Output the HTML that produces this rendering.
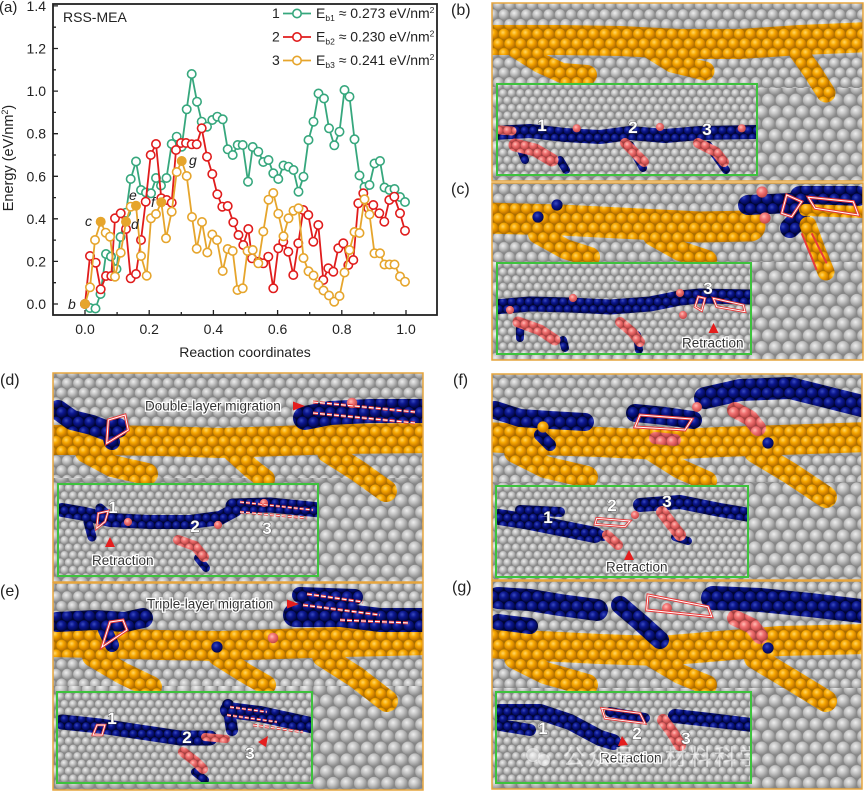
<!DOCTYPE html>
<html><head><meta charset="utf-8">
<style>
html,body{margin:0;padding:0;background:#fff;}
svg{display:block;font-family:"Liberation Sans",Arial,sans-serif;}
</style></head><body>
<svg width="865" height="791" viewBox="0 0 865 791" xmlns="http://www.w3.org/2000/svg">
<defs>
<radialGradient id="rg" cx="0.4" cy="0.36" r="0.62"><stop offset="0" stop-color="#eeeeee"/><stop offset="0.45" stop-color="#c6c6c6"/><stop offset="1" stop-color="#8e8e8e"/></radialGradient>
<radialGradient id="ro" cx="0.4" cy="0.36" r="0.62"><stop offset="0" stop-color="#ffd86a"/><stop offset="0.45" stop-color="#f8a800"/><stop offset="1" stop-color="#c27400"/></radialGradient>
<radialGradient id="rb" cx="0.4" cy="0.36" r="0.62"><stop offset="0" stop-color="#3a4cc0"/><stop offset="0.45" stop-color="#0c1790"/><stop offset="1" stop-color="#020850"/></radialGradient>
<radialGradient id="rp" cx="0.4" cy="0.36" r="0.62"><stop offset="0" stop-color="#ffc0b8"/><stop offset="0.45" stop-color="#f27272"/><stop offset="1" stop-color="#c44a4a"/></radialGradient>

<pattern id="G1" width="11.2" height="19.4" patternUnits="userSpaceOnUse"><rect width="11.2" height="19.4" fill="#858585"/><g fill="url(#rg)"><circle cx="5.6" cy="4.85" r="5.35"/><circle cx="0" cy="14.55" r="5.35"/><circle cx="11.2" cy="14.55" r="5.35"/><circle cx="0" cy="-4.85" r="5.35"/><circle cx="11.2" cy="-4.85" r="5.35"/><circle cx="5.6" cy="24.25" r="5.35"/></g></pattern>
<pattern id="G3" width="13.6" height="23.56" patternUnits="userSpaceOnUse"><rect width="13.6" height="23.56" fill="#858585"/><g fill="url(#rg)"><circle cx="6.8" cy="5.89" r="6.5"/><circle cx="0" cy="17.67" r="6.5"/><circle cx="13.6" cy="17.67" r="6.5"/><circle cx="0" cy="-5.89" r="6.5"/><circle cx="13.6" cy="-5.89" r="6.5"/><circle cx="6.8" cy="29.45" r="6.5"/></g></pattern>
<pattern id="O1" width="11.2" height="19.4" patternUnits="userSpaceOnUse"><rect width="11.2" height="19.4" fill="#a86e00"/><g fill="url(#ro)"><circle cx="5.6" cy="4.85" r="5.35"/><circle cx="0" cy="14.55" r="5.35"/><circle cx="11.2" cy="14.55" r="5.35"/><circle cx="0" cy="-4.85" r="5.35"/><circle cx="11.2" cy="-4.85" r="5.35"/><circle cx="5.6" cy="24.25" r="5.35"/></g></pattern>
<pattern id="B1" width="11.2" height="19.4" patternUnits="userSpaceOnUse"><rect width="11.2" height="19.4" fill="#000530"/><g fill="url(#rb)"><circle cx="5.6" cy="4.85" r="5.35"/><circle cx="0" cy="14.55" r="5.35"/><circle cx="11.2" cy="14.55" r="5.35"/><circle cx="0" cy="-4.85" r="5.35"/><circle cx="11.2" cy="-4.85" r="5.35"/><circle cx="5.6" cy="24.25" r="5.35"/></g></pattern>
<pattern id="G2" width="8.6" height="14.9" patternUnits="userSpaceOnUse"><rect width="8.6" height="14.9" fill="#858585"/><g fill="url(#rg)"><circle cx="4.3" cy="3.725" r="4.1"/><circle cx="0" cy="11.175" r="4.1"/><circle cx="8.6" cy="11.175" r="4.1"/><circle cx="0" cy="-3.725" r="4.1"/><circle cx="8.6" cy="-3.725" r="4.1"/><circle cx="4.3" cy="18.625" r="4.1"/></g></pattern>
<pattern id="B2" width="8.6" height="14.9" patternUnits="userSpaceOnUse"><rect width="8.6" height="14.9" fill="#000530"/><g fill="url(#rb)"><circle cx="4.3" cy="3.725" r="4.1"/><circle cx="0" cy="11.175" r="4.1"/><circle cx="8.6" cy="11.175" r="4.1"/><circle cx="0" cy="-3.725" r="4.1"/><circle cx="8.6" cy="-3.725" r="4.1"/><circle cx="4.3" cy="18.625" r="4.1"/></g></pattern>
<pattern id="P2" width="8.6" height="14.9" patternUnits="userSpaceOnUse"><rect width="8.6" height="14.9" fill="#a04040"/><g fill="url(#rp)"><circle cx="4.3" cy="3.725" r="4.1"/><circle cx="0" cy="11.175" r="4.1"/><circle cx="8.6" cy="11.175" r="4.1"/><circle cx="0" cy="-3.725" r="4.1"/><circle cx="8.6" cy="-3.725" r="4.1"/><circle cx="4.3" cy="18.625" r="4.1"/></g></pattern>
<pattern id="P1" width="11.2" height="19.4" patternUnits="userSpaceOnUse"><rect width="11.2" height="19.4" fill="#a04040"/><g fill="url(#rp)"><circle cx="5.6" cy="4.85" r="5.35"/><circle cx="0" cy="14.55" r="5.35"/><circle cx="11.2" cy="14.55" r="5.35"/><circle cx="0" cy="-4.85" r="5.35"/><circle cx="11.2" cy="-4.85" r="5.35"/><circle cx="5.6" cy="24.25" r="5.35"/></g></pattern>

<marker id="mG" markerWidth="12" markerHeight="12" refX="6" refY="6" markerUnits="userSpaceOnUse" overflow="visible"><circle cx="6" cy="6" r="4.2" fill="#fff" stroke="#36a77d" stroke-width="1.6"/></marker>
<marker id="mR" markerWidth="12" markerHeight="12" refX="6" refY="6" markerUnits="userSpaceOnUse" overflow="visible"><circle cx="6" cy="6" r="4.2" fill="#fff" stroke="#e01c1c" stroke-width="1.6"/></marker>
<marker id="mO" markerWidth="12" markerHeight="12" refX="6" refY="6" markerUnits="userSpaceOnUse" overflow="visible"><circle cx="6" cy="6" r="4.2" fill="#fff" stroke="#e6a52c" stroke-width="1.6"/></marker>

<clipPath id="cb"><rect x="492" y="3" width="371" height="178"/></clipPath>
<clipPath id="cc"><rect x="492" y="183" width="371" height="177"/></clipPath>
<clipPath id="cd"><rect x="53" y="373" width="370" height="209"/></clipPath>
<clipPath id="ce"><rect x="53" y="583" width="370" height="207"/></clipPath>
<clipPath id="cf"><rect x="492" y="374" width="370" height="206"/></clipPath>
<clipPath id="cg"><rect x="492" y="581" width="370" height="208"/></clipPath>
<clipPath id="ib"><rect x="497" y="84" width="260" height="91"/></clipPath>
<clipPath id="ic"><rect x="497" y="263" width="254" height="91"/></clipPath>
<clipPath id="id"><rect x="58" y="484" width="260" height="92"/></clipPath>
<clipPath id="ie"><rect x="57" y="692" width="255" height="91"/></clipPath>
<clipPath id="if"><rect x="496" y="486" width="252" height="91"/></clipPath>
<clipPath id="ig"><rect x="496" y="692" width="255" height="91"/></clipPath>
</defs>

<rect width="865" height="791" fill="#fff"/>

<!-- ================= CHART (a) ================= -->
<text x="-1" y="12" font-size="15" fill="#222">(a)</text>
<rect x="53" y="4" width="384" height="311" fill="none" stroke="#222" stroke-width="1.8"/>
<path d="M53,304h5M53,282.7h3M53,261.4h5M53,240.1h3M53,218.8h5M53,197.6h3M53,176.3h5M53,155h3M53,133.7h5M53,112.4h3M53,91.1h5M53,69.8h3M53,48.5h5M53,27.2h3M53,5.9h5" stroke="#222" stroke-width="1.3"/>
<path d="M85,315v-5M117.1,315v-3M149.2,315v-5M181.3,315v-3M213.4,315v-5M245.5,315v-3M277.6,315v-5M309.7,315v-3M341.8,315v-5M373.9,315v-3M406,315v-5" stroke="#222" stroke-width="1.3"/>
<g font-size="14" fill="#222" text-anchor="end">
<text x="46" y="309">0.0</text><text x="46" y="266.4">0.2</text><text x="46" y="223.8">0.4</text><text x="46" y="181.3">0.6</text><text x="46" y="138.7">0.8</text><text x="46" y="96.1">1.0</text><text x="46" y="53.5">1.2</text><text x="46" y="10.9">1.4</text>
</g>
<g font-size="14" fill="#222" text-anchor="middle">
<text x="85" y="334">0.0</text><text x="149.2" y="334">0.2</text><text x="213.4" y="334">0.4</text><text x="277.6" y="334">0.6</text><text x="341.8" y="334">0.8</text><text x="406" y="334">1.0</text>
<text x="245" y="357">Reaction coordinates</text>
</g>
<text transform="translate(13,158) rotate(-90)" text-anchor="middle" font-size="14.5" fill="#222">Energy (eV/nm<tspan font-size="9" dy="-5">2</tspan><tspan dy="5">)</tspan></text>
<text x="63" y="22" font-size="14" fill="#222">RSS-MEA</text>

<!-- legend -->
<g font-size="14" fill="#222">
<text x="272" y="18">1</text>
<text x="272" y="41.5">2</text>
<text x="272" y="65">3</text>
<text x="316" y="18">E<tspan font-size="8.5" dy="3">b1</tspan><tspan dy="-3"> ≈ 0.273 eV/nm</tspan><tspan font-size="8.5" dy="-5">2</tspan></text>
<text x="316" y="41.5">E<tspan font-size="8.5" dy="3">b2</tspan><tspan dy="-3"> ≈ 0.230 eV/nm</tspan><tspan font-size="8.5" dy="-5">2</tspan></text>
<text x="316" y="65">E<tspan font-size="8.5" dy="3">b3</tspan><tspan dy="-3"> ≈ 0.241 eV/nm</tspan><tspan font-size="8.5" dy="-5">2</tspan></text>
</g>
<path d="M283,13.5H311" stroke="#36a77d" stroke-width="1.8"/><circle cx="297" cy="13.5" r="4.2" fill="#fff" stroke="#36a77d" stroke-width="1.6"/>
<path d="M283,37H311" stroke="#e01c1c" stroke-width="1.8"/><circle cx="297" cy="37" r="4.2" fill="#fff" stroke="#e01c1c" stroke-width="1.6"/>
<path d="M283,60.5H311" stroke="#e6a52c" stroke-width="1.8"/><circle cx="297" cy="60.5" r="4.2" fill="#fff" stroke="#e6a52c" stroke-width="1.6"/>

<!-- series -->
<polyline fill="none" stroke="#36a77d" stroke-width="1.8" stroke-linejoin="round" marker-start="url(#mG)" marker-mid="url(#mG)" marker-end="url(#mG)"
points="85,304 90,308 95.5,308.5 100.5,294 106,254 111,256.5 116.5,269 120.5,237 126,212.7 130.7,179 136,161.5 141,190 146,192.5 151,193.3 156,178 161,185.5 166.5,178 171.7,144 176.7,136.7 181.7,146.7 186.7,109.3 191.7,74 197,101.7 201.7,121.7 207,126.7 212.3,120 217.3,116.7 222.7,119.3 227.7,149.3 232.7,155 237.7,145 242.7,145 248,181.7 252.7,147 258.3,151.7 263.3,162 268.5,160 273.3,173.3 278.3,179 283.5,165.5 288.5,166.7 293.5,170 298.5,191.7 303.5,176.7 308.5,140 313.5,121.7 318.5,93.5 324,98.5 329,128.3 334.3,145.3 339.5,131.7 344.5,90 349.5,96.7 354.5,139.3 359.5,175.5 364.5,187 369.5,185 374.5,163.5 380,161 384.5,187.5 389.5,190 394.5,189 400,197 405,202"/>
<polyline fill="none" stroke="#e01c1c" stroke-width="1.8" stroke-linejoin="round" marker-start="url(#mR)" marker-mid="url(#mR)" marker-end="url(#mR)"
points="85,304 90,256 95.7,262.7 100.7,289.3 106,276 111.3,276 115,218.3 120.7,213.3 126,229 130.7,278.3 136,274 141,240 145.7,201.7 150.7,155 156,144 161.3,198.3 166.7,200 171.7,202.7 176,150 181,143 186,143 191.7,144.3 196.7,144.3 201.7,128.3 207,156.7 212.3,174 217.3,194.3 222.3,206.7 227.7,206 233.3,222.3 238.5,235 243.3,245 248.3,229 252,258.3 258.3,261.7 263.3,263.3 268.3,256.7 273.3,288.3 278.3,248.3 283.3,241.7 288.3,251.7 293.3,275 298.3,243.3 303.3,210 308.3,215 313.3,241.7 318.3,225 323.3,280 328.3,268.3 333.3,271.7 338.3,248.3 343.3,243.3 348.3,265 353.3,260 358.3,203.3 363.3,193.3 368.3,208.3 373.3,205 379.3,213.3 384.3,221.7 389.3,200 394.3,196.7 400,213.3 405,230.7"/>
<polyline fill="none" stroke="#e6a52c" stroke-width="1.8" stroke-linejoin="round" marker-start="url(#mO)" marker-mid="url(#mO)" marker-end="url(#mO)"
points="85,304 90,287.3 95,240 100.7,221.7 105.7,232.7 110,236.7 115,276.7 120.7,252.7 126,221.7 130.7,206.7 136,205.7 141,256 146.7,275.7 151,218.3 156,214 161.3,202.3 166,238.3 171.7,211.7 176.7,172 181.7,161 186.7,176 192,217 196.7,248.7 202,222 207.3,252.5 212.3,234.5 217,240 222.7,271 227.7,249 232.7,251 237.5,290 242.7,288.3 247.5,251 252.7,250 258.3,263.3 263.3,231.5 268.5,199.7 273.3,193 278.3,213.7 283.5,236.3 288.5,218.3 293.5,210.7 298.5,208.3 303.5,258 308.5,271.3 313.5,275.5 318.5,285 323.5,290.5 329,295.5 334.2,301.7 339.5,296 344.5,272.5 349.5,250 354.5,232 359.5,233 364.5,199.3 369.5,214.5 374.5,253.3 380,253.3 384.5,264.5 389.5,264.5 394.5,264.5 400,276.5 405,281.7"/>
<g fill="#e6a52c">
<circle cx="85" cy="304" r="4.6"/><circle cx="100.7" cy="221.7" r="4.6"/><circle cx="126" cy="221.7" r="4.6"/><circle cx="136" cy="205.7" r="4.6"/><circle cx="161.3" cy="202.3" r="4.6"/><circle cx="181.7" cy="161" r="4.6"/>
</g>
<g font-size="14" font-style="italic" fill="#222">
<text x="68" y="309">b</text><text x="85" y="226">c</text><text x="131" y="229">d</text><text x="129" y="200">e</text><text x="151" y="207">f</text><text x="189" y="165">g</text>
</g>

<!-- panel labels -->
<g font-size="16" fill="#222">
<text x="451" y="15">(b)</text>
<text x="451" y="194">(c)</text>
<text x="0" y="385">(d)</text>
<text x="0" y="596">(e)</text>
<text x="453" y="385">(f)</text>
<text x="452" y="592">(g)</text>
</g>

<!-- ================= PANEL (b) ================= -->
<g clip-path="url(#cb)">
<rect x="492" y="3" width="371" height="178" fill="url(#G1)"/>
<rect x="492" y="88" width="371" height="93" fill="url(#G3)"/>
<g fill="none" stroke="url(#O1)" stroke-linecap="round" stroke-linejoin="round">
<path d="M485,40 L560,40 L620,41 L680,44 L740,44 L800,40 L870,37" stroke-width="30"/>
<path d="M516,48 L540,63 L562,73 L587,75" stroke-width="20"/>
<path d="M648,48 L672,63 L705,71" stroke-width="19"/>
<path d="M794,46 L812,71 L826,93" stroke-width="19"/>
</g>
</g>
<g clip-path="url(#ib)">
<rect x="497" y="84" width="260" height="91" fill="url(#G2)"/>
<g fill="none" stroke-linecap="round" stroke-linejoin="round">
<path d="M494,133 L530,131 L565,135 L600,137 L630,133 L665,136 L700,133 L760,132" stroke="url(#B2)" stroke-width="14"/>
<path d="M521,150 L525,160 M560,160 L566,170 M630,145 L643,168 M708,145 L726,170" stroke="url(#B2)" stroke-width="8"/>
<path d="M500,130 L512,131" stroke="url(#P2)" stroke-width="9"/>
<path d="M515,145 L535,150 L552,160" stroke="url(#P2)" stroke-width="13"/>
<path d="M625,143 L638,156 L644,162" stroke="url(#P2)" stroke-width="10"/>
<path d="M698,143 L716,152 L724,162" stroke="url(#P2)" stroke-width="10"/>
</g>
<g fill="url(#rp)"><circle cx="576.7" cy="128.3" r="4.1"/><circle cx="660" cy="127" r="4.1"/><circle cx="741.7" cy="128.3" r="4.1"/></g>
</g>
<rect x="497" y="84" width="260" height="91" fill="none" stroke="#3dc23d" stroke-width="2"/>
<rect x="492" y="3" width="371" height="178" fill="none" stroke="#e6a53e" stroke-width="1.5"/>
<g font-size="17" font-weight="bold" fill="#fff" stroke="#444" stroke-width="0.8" paint-order="stroke" text-anchor="middle">
<text x="542" y="131">1</text><text x="633" y="133">2</text><text x="707" y="135">3</text>
</g>

<!-- ================= PANEL (c) ================= -->
<g clip-path="url(#cc)">
<rect x="492" y="183" width="371" height="177" fill="url(#G1)"/>
<rect x="492" y="262" width="371" height="98" fill="url(#G3)"/>
<g fill="none" stroke-linecap="round" stroke-linejoin="round">
<path d="M485,218 L560,220 L640,224 L700,227 L750,226" stroke="url(#O1)" stroke-width="31"/>
<path d="M538,234 L565,249 L590,257" stroke="url(#O1)" stroke-width="20"/>
<path d="M653,236 L680,251 L707,260" stroke="url(#O1)" stroke-width="20"/>
<path d="M748,205 L790,203 L800,218 L790,228 M800,196 L858,196" stroke="url(#B1)" stroke-width="20"/>
<path d="M805,210 L862,212" stroke="url(#O1)" stroke-width="12"/>
<path d="M808,225 L817,250 L826,272" stroke="url(#O1)" stroke-width="17"/>
</g>
<circle cx="538" cy="217" r="5.6" fill="url(#rb)"/><circle cx="557" cy="205" r="5.6" fill="url(#rb)"/>
<circle cx="762" cy="192" r="5.6" fill="url(#rp)"/><circle cx="765" cy="218" r="5.6" fill="url(#rp)"/>
<g fill="none">
<polygon points="781.7,213.3 786.7,195 801.7,201.7 791.7,216.7" stroke="#e83a3a" stroke-width="3"/>
<polygon points="781.7,213.3 786.7,195 801.7,201.7 791.7,216.7" stroke="#fff" stroke-width="1"/>
<polygon points="808.3,197.3 853.3,201.7 858.3,215 815,208.3" stroke="#e83a3a" stroke-width="3"/>
<polygon points="808.3,197.3 853.3,201.7 858.3,215 815,208.3" stroke="#fff" stroke-width="1"/>
<path d="M801.7,233.3 L816.7,270 M811.7,233.3 L826.7,263.3" stroke="#e83a3a" stroke-width="2"/>
</g>
</g>
<g clip-path="url(#ic)">
<rect x="497" y="263" width="254" height="91" fill="url(#G2)"/>
<g fill="none" stroke-linecap="round" stroke-linejoin="round">
<path d="M494,307 L530,304 L570,305 L610,307 L650,304 L680,298 L700,296 L750,297" stroke="url(#B2)" stroke-width="15"/>
<path d="M520,325 L520,338 M637,335 L639,350 M563,340 L565,348" stroke="url(#B2)" stroke-width="8"/>
<path d="M518,322 L540,330 L555,340" stroke="url(#P2)" stroke-width="11"/>
<path d="M620,322 L632,332 L640,342" stroke="url(#P2)" stroke-width="10"/>
</g>
<g fill="url(#rp)"><circle cx="510" cy="310" r="4.1"/><circle cx="573" cy="298" r="4.1"/><circle cx="680" cy="293" r="4.1"/><circle cx="683" cy="315" r="4.1"/></g>
<g fill="none">
<polygon points="695,306.7 698.3,296.7 705,298.3 701.7,310.7" stroke="#e83a3a" stroke-width="2.6"/>
<polygon points="695,306.7 698.3,296.7 705,298.3 701.7,310.7" stroke="#fff" stroke-width="0.9"/>
<polygon points="713.3,298.3 743.3,305 745,311.7 716.7,306.7" stroke="#e83a3a" stroke-width="2.6"/>
<polygon points="713.3,298.3 743.3,305 745,311.7 716.7,306.7" stroke="#fff" stroke-width="0.9"/>
</g>
<polygon points="713.5,323 718.5,333 708.5,333" fill="#e41e1e"/>
<text x="682" y="347.5" font-size="13.5" fill="#333" stroke="#fff" stroke-width="2.5" paint-order="stroke">Retraction</text>
</g>
<rect x="497" y="263" width="254" height="91" fill="none" stroke="#3dc23d" stroke-width="2"/>
<rect x="492" y="183" width="371" height="177" fill="none" stroke="#e6a53e" stroke-width="1.5"/>
<text x="708" y="294" font-size="17" font-weight="bold" fill="#fff" stroke="#444" stroke-width="0.8" paint-order="stroke" text-anchor="middle">3</text>

<!-- ================= PANEL (d) ================= -->
<g clip-path="url(#cd)">
<rect x="53" y="373" width="370" height="209" fill="url(#G1)"/>
<rect x="53" y="478" width="370" height="104" fill="url(#G3)"/>
<g fill="none" stroke-linecap="round" stroke-linejoin="round">
<path d="M45,440 L100,440 L160,441 L220,443 L280,441 L340,439 L430,438" stroke="url(#O1)" stroke-width="30"/>
<path d="M86,452 L112,466 L147,474" stroke="url(#O1)" stroke-width="22"/>
<path d="M233,452 L252,469 L265,479" stroke="url(#O1)" stroke-width="20"/>
<path d="M328,452 L358,471 L386,491" stroke="url(#O1)" stroke-width="22"/>
<path d="M58,410 L72,420 L92,425 L105,430 L118,428" stroke="url(#B1)" stroke-width="20"/>
<path d="M108,428 L112,442" stroke="url(#B1)" stroke-width="16"/>
<path d="M305,418 L330,413 L370,411 L430,411" stroke="url(#B1)" stroke-width="24"/>
</g>
<circle cx="352" cy="403" r="5.3" fill="url(#rp)"/>
<g fill="none">
<polygon points="106.7,443.3 108.3,420 125,415 128.3,430" stroke="#e83a3a" stroke-width="3"/>
<polygon points="106.7,443.3 108.3,420 125,415 128.3,430" stroke="#fff" stroke-width="1"/>
<path d="M313,402 L415,412 M313,413 L415,423" stroke="#e83a3a" stroke-width="3" stroke-dasharray="5 2"/>
<path d="M313,402 L415,412 M313,413 L415,423" stroke="#fff" stroke-width="1.1" stroke-dasharray="5 2"/>
</g>
<text x="145" y="410.5" font-size="13.5" fill="#333" stroke="#fff" stroke-width="2.5" paint-order="stroke">Double-layer migration</text>
<polygon points="293,401.5 305,406 293,410.5" fill="#e41e1e"/>
</g>
<g clip-path="url(#id)">
<rect x="58" y="484" width="260" height="92" fill="url(#G2)"/>
<g fill="none" stroke-linecap="round" stroke-linejoin="round" stroke="url(#B2)">
<path d="M62,510 L85,514 L110,520 L150,522 L190,522 L220,518 L235,510" stroke-width="14"/>
<path d="M88,522 L92,537 M100,508 L108,515" stroke-width="9"/>
<path d="M233,506 L270,505 L320,510" stroke-width="15"/>
<path d="M198,558 L206,568" stroke-width="8"/>
</g>
<path d="M178,540 L195,546 L204,557" stroke="url(#P2)" stroke-width="10" fill="none" stroke-linecap="round"/>
<g fill="url(#rp)"><circle cx="218" cy="525" r="4.1"/><circle cx="128" cy="522" r="4.1"/><circle cx="264" cy="503" r="4.1"/></g>
<g fill="none">
<polygon points="96.7,528.3 98.3,513.3 108.3,511 105,521.7" stroke="#e83a3a" stroke-width="2.6"/>
<polygon points="96.7,528.3 98.3,513.3 108.3,511 105,521.7" stroke="#fff" stroke-width="0.9"/>
<path d="M240,502 L313,510 M240,512 L307,518" stroke="#e83a3a" stroke-width="2.6" stroke-dasharray="4 2"/>
<path d="M240,502 L313,510 M240,512 L307,518" stroke="#fff" stroke-width="0.9" stroke-dasharray="4 2"/>
</g>
<polygon points="110,537 115,547 105,547" fill="#e41e1e"/>
<text x="92" y="565" font-size="13.5" fill="#333" stroke="#fff" stroke-width="2.5" paint-order="stroke">Retraction</text>
</g>
<rect x="58" y="484" width="260" height="92" fill="none" stroke="#3dc23d" stroke-width="2"/>
<rect x="53" y="373" width="370" height="209" fill="none" stroke="#e6a53e" stroke-width="1.5"/>
<g font-size="17" font-weight="bold" fill="#fff" stroke="#444" stroke-width="0.8" paint-order="stroke" text-anchor="middle">
<text x="113" y="513">1</text><text x="195" y="532">2</text><text x="267" y="534">3</text>
</g>

<!-- ================= PANEL (e) ================= -->
<g clip-path="url(#ce)">
<rect x="53" y="583" width="370" height="207" fill="url(#G1)"/>
<rect x="53" y="686" width="370" height="104" fill="url(#G3)"/>
<g fill="none" stroke-linecap="round" stroke-linejoin="round">
<path d="M45,642 L100,643 L160,645 L220,646 L280,644 L340,642 L430,640" stroke="url(#O1)" stroke-width="30"/>
<path d="M93,656 L122,673 L151,687" stroke="url(#O1)" stroke-width="22"/>
<path d="M218,656 L245,673 L266,685" stroke="url(#O1)" stroke-width="20"/>
<path d="M323,656 L356,677 L387,701" stroke="url(#O1)" stroke-width="22"/>
<path d="M57,622 L95,620 L125,622 L143,618" stroke="url(#B1)" stroke-width="20"/>
<path d="M105,630 L112,645" stroke="url(#B1)" stroke-width="14"/>
<path d="M300,595 L355,597" stroke="url(#B1)" stroke-width="16"/>
<path d="M295,615 L340,615 L380,620 L430,620" stroke="url(#B1)" stroke-width="24"/>
</g>
<circle cx="217" cy="647" r="5.6" fill="url(#rb)"/>
<circle cx="273" cy="638" r="5.3" fill="url(#rp)"/>
<g fill="none">
<polygon points="102,647 110,622 123,620 127,630" stroke="#e83a3a" stroke-width="3"/>
<polygon points="102,647 110,622 123,620 127,630" stroke="#fff" stroke-width="1"/>
<path d="M307,594 L363,602 M303,605 L380,615 M340,620 L410,623" stroke="#e83a3a" stroke-width="3" stroke-dasharray="5 2"/>
<path d="M307,594 L363,602 M303,605 L380,615 M340,620 L410,623" stroke="#fff" stroke-width="1.1" stroke-dasharray="5 2"/>
</g>
<text x="147" y="608.5" font-size="13.5" fill="#333" stroke="#fff" stroke-width="2.5" paint-order="stroke">Triple-layer migration</text>
<polygon points="287,599.5 299,604 287,608.5" fill="#e41e1e"/>
</g>
<g clip-path="url(#ie)">
<rect x="57" y="692" width="255" height="91" fill="url(#G2)"/>
<g fill="none" stroke-linecap="round" stroke-linejoin="round" stroke="url(#B2)">
<path d="M62,722 L100,726 L140,732 L180,738 L210,738" stroke-width="15"/>
<path d="M228,710 L260,714 L315,726" stroke-width="16"/>
<path d="M228,705 L232,730" stroke-width="12"/>
<path d="M195,772 L205,780" stroke-width="8"/>
</g>
<g fill="none" stroke-linecap="round" stroke="url(#P2)">
<path d="M183,752 L195,761 L203,769" stroke-width="10"/>
<path d="M205,737 L226,739" stroke-width="8"/>
</g>
<g fill="none">
<polygon points="93,735 97,725 105,725 102,735" stroke="#e83a3a" stroke-width="2.6"/>
<polygon points="93,735 97,725 105,725 102,735" stroke="#fff" stroke-width="0.9"/>
<path d="M230,707 L267,712 M227,715 L277,722 M253,725 L303,732" stroke="#e83a3a" stroke-width="2.6" stroke-dasharray="4 2"/>
<path d="M230,707 L267,712 M227,715 L277,722 M253,725 L303,732" stroke="#fff" stroke-width="0.9" stroke-dasharray="4 2"/>
</g>
<polygon points="268,736 266,747 258,742" fill="#e41e1e"/>
</g>
<rect x="57" y="692" width="255" height="91" fill="none" stroke="#3dc23d" stroke-width="2"/>
<rect x="53" y="583" width="370" height="207" fill="none" stroke="#e6a53e" stroke-width="1.5"/>
<g font-size="17" font-weight="bold" fill="#fff" stroke="#444" stroke-width="0.8" paint-order="stroke" text-anchor="middle">
<text x="112" y="724">1</text><text x="187" y="743">2</text><text x="250" y="759">3</text>
</g>

<!-- ================= PANEL (f) ================= -->
<g clip-path="url(#cf)">
<rect x="492" y="374" width="370" height="206" fill="url(#G1)"/>
<rect x="492" y="482" width="370" height="98" fill="url(#G3)"/>
<g fill="none" stroke-linecap="round" stroke-linejoin="round">
<path d="M485,437 L540,440 L600,442 L660,445 L720,442 L780,440 L870,437" stroke="url(#O1)" stroke-width="30"/>
<path d="M515,452 L545,467 L587,477" stroke="url(#O1)" stroke-width="22"/>
<path d="M653,452 L680,469 L707,481" stroke="url(#O1)" stroke-width="20"/>
<path d="M755,452 L790,473 L826,497" stroke="url(#O1)" stroke-width="22"/>
<path d="M495,410 L520,418 L550,420 L585,422" stroke="url(#B1)" stroke-width="18"/>
<path d="M540,435 L550,445" stroke="url(#B1)" stroke-width="12"/>
<path d="M635,413 L665,416 L693,420" stroke="url(#B1)" stroke-width="18"/>
<path d="M705,398 L740,390 L790,388 L830,398 L870,408" stroke="url(#B1)" stroke-width="22"/>
<path d="M735,410 L750,418 L758,428" stroke="url(#P1)" stroke-width="16"/>
<path d="M655,438 L675,440" stroke="url(#P1)" stroke-width="12"/>
</g>
<circle cx="697" cy="407" r="5" fill="url(#rp)"/>
<circle cx="768" cy="443" r="5.6" fill="url(#rb)"/>
<circle cx="543" cy="427" r="5.6" fill="url(#ro)"/>
<g fill="none">
<polygon points="640,415 692,419 685,430 635,427" stroke="#e83a3a" stroke-width="3"/>
<polygon points="640,415 692,419 685,430 635,427" stroke="#fff" stroke-width="1"/>
</g>
</g>
<g clip-path="url(#if)">
<rect x="496" y="486" width="252" height="91" fill="url(#G2)"/>
<g fill="none" stroke-linecap="round" stroke-linejoin="round" stroke="url(#B2)">
<path d="M499,517 L530,522 L560,528 L595,535" stroke-width="16"/>
<path d="M520,510 L560,512" stroke-width="10"/>
<path d="M590,532 L603,536" stroke-width="10"/>
<path d="M640,505 L680,502 L720,510 L750,515" stroke-width="14"/>
<path d="M675,537 L688,541" stroke-width="8"/>
</g>
<g fill="none" stroke-linecap="round" stroke="url(#P2)">
<path d="M607,535 L618,545" stroke-width="10"/>
<path d="M662,512 L672,525 L680,535" stroke-width="12"/>
</g>
<circle cx="635" cy="515" r="4.1" fill="url(#rp)"/>
<g fill="none">
<polygon points="596.7,518.3 630,521 625,526.7 595,524.3" stroke="#e83a3a" stroke-width="2.6"/>
<polygon points="596.7,518.3 630,521 625,526.7 595,524.3" stroke="#fff" stroke-width="0.9"/>
</g>
<polygon points="629,550 634,560 624,560" fill="#e41e1e"/>
<text x="606" y="571.5" font-size="13.5" fill="#333" stroke="#fff" stroke-width="2.5" paint-order="stroke">Retraction</text>
</g>
<rect x="496" y="486" width="252" height="91" fill="none" stroke="#3dc23d" stroke-width="2"/>
<rect x="492" y="374" width="370" height="206" fill="none" stroke="#e6a53e" stroke-width="1.5"/>
<g font-size="17" font-weight="bold" fill="#fff" stroke="#444" stroke-width="0.8" paint-order="stroke" text-anchor="middle">
<text x="548" y="523">1</text><text x="612" y="511">2</text><text x="667" y="507">3</text>
</g>

<!-- ================= PANEL (g) ================= -->
<g clip-path="url(#cg)">
<rect x="492" y="581" width="370" height="208" fill="url(#G1)"/>
<rect x="492" y="688" width="370" height="101" fill="url(#G3)"/>
<g fill="none" stroke-linecap="round" stroke-linejoin="round">
<path d="M485,643 L540,646 L600,649 L660,651 L720,646 L780,641 L870,639" stroke="url(#O1)" stroke-width="30"/>
<path d="M515,658 L545,673 L587,685" stroke="url(#O1)" stroke-width="22"/>
<path d="M653,658 L680,674 L707,685" stroke="url(#O1)" stroke-width="20"/>
<path d="M755,658 L790,679 L826,701" stroke="url(#O1)" stroke-width="22"/>
<path d="M498,598 L530,600 L560,605 L597,610" stroke="url(#B1)" stroke-width="22"/>
<path d="M498,622 L530,626" stroke="url(#B1)" stroke-width="16"/>
<path d="M620,605 L640,622 L660,640" stroke="url(#B1)" stroke-width="18"/>
<path d="M713,598 L760,600 L810,605 L870,612" stroke="url(#B1)" stroke-width="24"/>
<path d="M735,618 L752,626 L760,636" stroke="url(#P1)" stroke-width="16"/>
</g>
<circle cx="667" cy="608" r="5" fill="url(#rp)"/>
<circle cx="768" cy="648" r="5.6" fill="url(#rb)"/>
<g fill="none">
<polygon points="648,595 708,606.7 711.7,616.7 646.7,610" stroke="#e83a3a" stroke-width="3"/>
<polygon points="648,595 708,606.7 711.7,616.7 646.7,610" stroke="#fff" stroke-width="1"/>
</g>
</g>
<g clip-path="url(#ig)">
<rect x="496" y="692" width="255" height="91" fill="url(#G2)"/>
<g fill="none" stroke-linecap="round" stroke-linejoin="round" stroke="url(#B2)">
<path d="M500,712 L540,712 L570,722 L600,738 L613,742" stroke-width="16"/>
<path d="M500,725 L530,730" stroke-width="12"/>
<path d="M610,712 L645,718" stroke-width="10"/>
<path d="M675,716 L710,720 L752,725" stroke-width="14"/>
</g>
<path d="M663,720 L672,732 L680,745" fill="none" stroke="url(#P2)" stroke-width="12" stroke-linecap="round"/>
<g fill="none">
<polygon points="601.7,708.3 640,713.3 645,723.3 605,718.3" stroke="#e83a3a" stroke-width="2.6"/>
<polygon points="601.7,708.3 640,713.3 645,723.3 605,718.3" stroke="#fff" stroke-width="0.9"/>
</g>
<polygon points="622,736 628,745 618,746" fill="#e41e1e"/>
<text x="600" y="762.5" font-size="13.5" fill="#333" stroke="#fff" stroke-width="2.5" paint-order="stroke">Retraction</text>
<g fill="#fff" fill-opacity="0.55">
<circle cx="533" cy="755" r="7"/><circle cx="544" cy="760" r="6"/>
</g>
<text x="563" y="765" font-size="22" fill="#fff" fill-opacity="0.55" textLength="272" lengthAdjust="spacing" font-family="'Liberation Sans','Noto Sans CJK SC',sans-serif">公众号 · 材料科学与工程</text>
</g>
<rect x="496" y="692" width="255" height="91" fill="none" stroke="#3dc23d" stroke-width="2"/>
<rect x="492" y="581" width="370" height="208" fill="none" stroke="#e6a53e" stroke-width="1.5"/>
<g font-size="17" font-weight="bold" fill="#fff" stroke="#444" stroke-width="0.8" paint-order="stroke" text-anchor="middle">
<text x="543" y="734">1</text><text x="637" y="739">2</text><text x="686" y="744">3</text>
</g>
</svg>
</body></html>
